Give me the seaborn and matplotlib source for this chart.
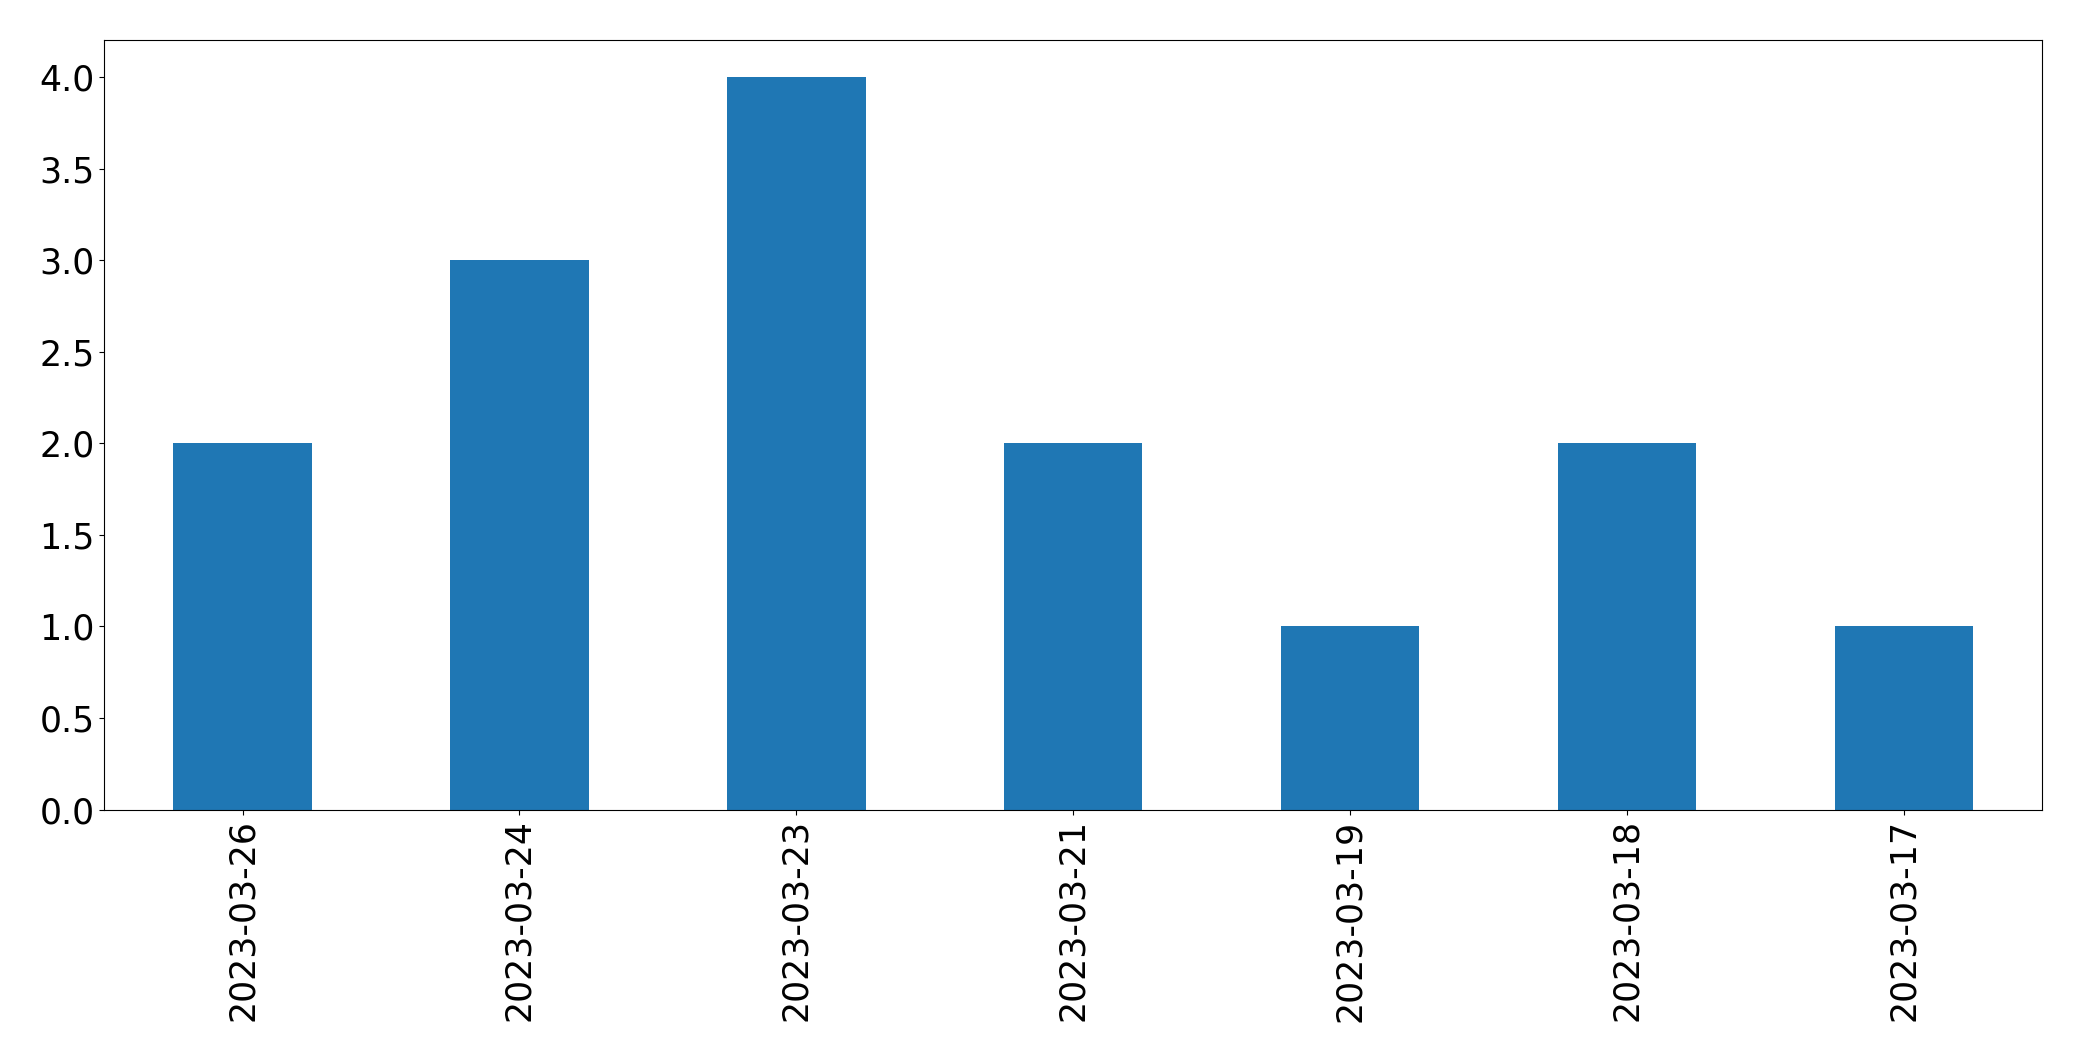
import matplotlib
matplotlib.use("Agg")
import matplotlib.pyplot as plt
import seaborn as sns
import pandas as pd

dates = ["2023-03-26", "2023-03-24", "2023-03-23", "2023-03-21",
         "2023-03-19", "2023-03-18", "2023-03-17"]
counts = [2, 3, 4, 2, 1, 2, 1]

df = pd.DataFrame({"date": dates, "count": counts})

fig, ax = plt.subplots(figsize=(20.82, 10.61), dpi=100)
sns.barplot(data=df, x="date", y="count", color="#1f77b4", saturation=1,
            width=0.5, linewidth=0, ax=ax)
ax.set_xlabel("")
ax.set_ylabel("")
ax.set_xlim(-0.5, len(dates) - 0.5)
ax.tick_params(axis="x", labelrotation=90, labelsize=25)
ax.tick_params(axis="y", labelsize=25)
fig.subplots_adjust(left=0.05, right=0.981, top=0.962, bottom=0.237)
fig.savefig("out.png", dpi=100)
